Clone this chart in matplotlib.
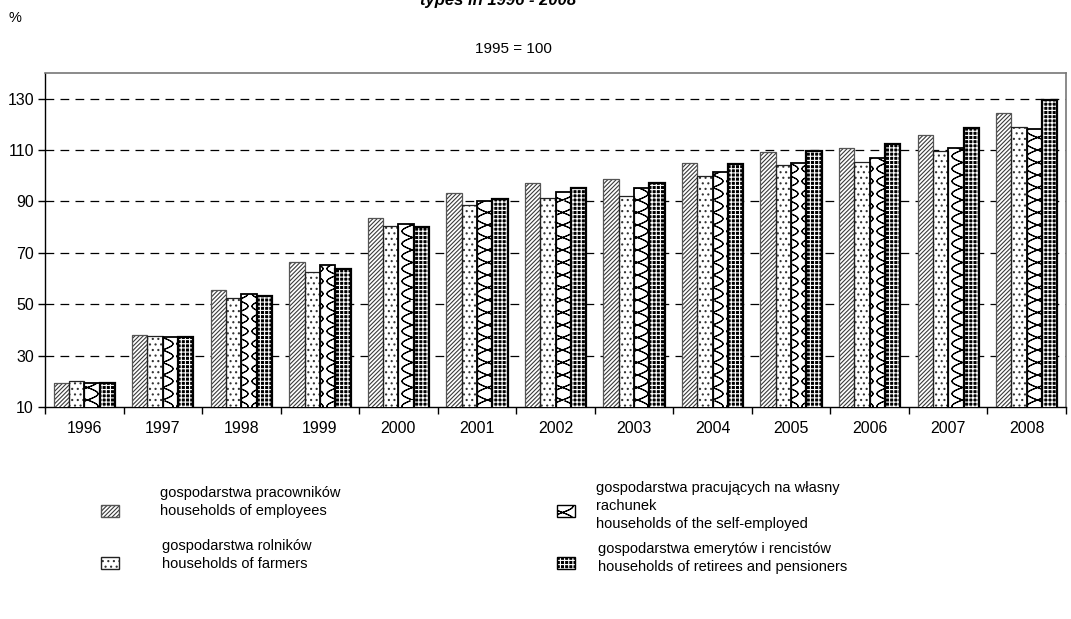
import warnings
import numpy as np
import matplotlib
matplotlib.use("Agg")
import matplotlib.pyplot as plt
import matplotlib.hatch as mhatch
from matplotlib.path import Path
from matplotlib.patches import Rectangle

warnings.filterwarnings("ignore")

# ---------------- data ----------------
years = ["1996", "1997", "1998", "1999", "2000", "2001", "2002",
         "2003", "2004", "2005", "2006", "2007", "2008"]
employees = [19.5, 38.2, 55.5, 66.6, 83.5, 93.3, 97.1, 98.6, 104.9, 109.2, 111.0, 115.9, 124.6]
farmers = [20.2, 37.7, 52.4, 62.7, 80.3, 88.6, 91.2, 92.1, 99.8, 104.1, 105.2, 109.7, 118.8]
self_employed = [19.2, 37.2, 53.8, 65.2, 81.4, 90.3, 93.5, 95.2, 101.4, 105.0, 106.9, 110.9, 118.3]
retirees = [19.5, 37.3, 53.3, 63.7, 80.2, 90.9, 95.2, 97.1, 104.7, 109.6, 112.2, 118.7, 129.6]
series = [employees, farmers, self_employed, retirees]
labels = [
    "gospodarstwa pracowników\nhouseholds of employees",
    "gospodarstwa rolników\nhouseholds of farmers",
    "gospodarstwa pracujących na własny\nrachunek\nhouseholds of the self-employed",
    "gospodarstwa emerytów i rencistów\nhouseholds of retirees and pensioners",
]
y_ticks = [10, 30, 50, 70, 90, 110, 130]
title = "types in 1996 - 2008"
subtitle = "1995 = 100"
unit = "%"


# ---------------- custom wavy (braid) hatch ----------------
class BraidHatch(mhatch.HatchPatternBase):
    """Two interleaved sinusoids per column; each stroke is traced forward and
    back so that Agg's hatch fill pass encloses no area."""
    def __init__(self, hatch, density):
        n = hatch.count('~')
        self.ncol = 4 * n if n else 0
        self.npts = 160
        self.num_vertices = self.ncol * 2 * 2 * self.npts

    def set_vertices_and_codes(self, vertices, codes):
        y = np.linspace(0.0, 1.0, self.npts)
        k = 4
        idx = 0
        m = 2 * self.npts
        for i in range(self.ncol):
            c = (i + 0.5) / self.ncol
            a = 0.42 / self.ncol
            for s in (1, -1):
                xx = c + s * a * np.sin(2 * np.pi * k * y)
                seg = np.column_stack([xx, y])
                seg = np.vstack([seg, seg[::-1]])
                vertices[idx:idx + m] = seg
                codes[idx] = Path.MOVETO
                codes[idx + 1:idx + m] = Path.LINETO
                idx += m


mhatch._hatch_types.append(BraidHatch)

plt.rcParams['font.family'] = ['Liberation Sans', 'DejaVu Sans']
plt.rcParams['hatch.linewidth'] = 0.8

W, H = 1071, 619
fig = plt.figure(figsize=(W / 100, H / 100), dpi=100)
ax = fig.add_axes([45 / W, 1 - 407 / H, (1066 - 45) / W, (407 - 73) / H])

# (fill style, outline style)
fills = [
    dict(hatch='////////', facecolor='white', edgecolor='#3a3a3a', linewidth=0),
    dict(hatch='...', facecolor='white', edgecolor='#333333', linewidth=0),
    dict(hatch='~', facecolor='white', edgecolor='black', linewidth=0),
    dict(hatch='++++', facecolor='black', edgecolor='white', linewidth=0),
]
outlines = [
    dict(edgecolor='#555555', linewidth=0.9),
    dict(edgecolor='#222222', linewidth=0.9),
    dict(edgecolor='black', linewidth=1.3),
    dict(edgecolor='black', linewidth=1.6),
]

x = np.arange(len(years))
bw = 0.195
for j, vals in enumerate(series):
    pos = x + (j - 1.5) * bw
    ax.bar(pos, vals, width=bw, zorder=3, **fills[j])
    ax.bar(pos, vals, width=bw, zorder=4, fill=False, **outlines[j])

ax.set_xlim(-0.5, len(years) - 0.5)
ax.set_ylim(10, 140)
ax.set_yticks(y_ticks)
ax.set_yticklabels([str(v) for v in y_ticks], fontsize=11.5)
ax.set_xticks(x)
ax.set_xticklabels(years, fontsize=11.5)
ax.tick_params(axis='x', which='major', length=0, pad=10)
ax.set_xticks(np.arange(len(years) + 1) - 0.5, minor=True)
ax.tick_params(axis='x', which='minor', length=5, direction='out', width=1)
ax.tick_params(axis='y', length=5, direction='out', width=1, pad=3)

for v in y_ticks[1:]:
    ax.axhline(v, color='black', linewidth=0.9, linestyle=(0, (7, 5)), zorder=1)

for s in ['left', 'bottom']:
    ax.spines[s].set_color('black')
    ax.spines[s].set_linewidth(1.0)
for s in ['top', 'right']:
    ax.spines[s].set_color('#777777')
    ax.spines[s].set_linewidth(1.2)

# header texts
fig.text(498 / W, 1 - 1 / H, title, ha='center', va='center', fontsize=12,
         fontweight='bold', fontstyle='italic')
fig.text(15 / W, 1 - 18 / H, unit, ha='center', va='center', fontsize=10.5)
fig.text(513 / W, 1 - 49 / H, subtitle, ha='center', va='center', fontsize=11)

# legend (manual)
sw_pos = [(101, 511), (101, 563), (557, 511), (557, 563)]
txt_pos = [(160, 486), (162, 539), (596, 481), (598, 542)]
for j, ((sx, sy), (tx, ty), lab) in enumerate(zip(sw_pos, txt_pos, labels)):
    f = fills[j]
    o = outlines[j]
    xy = (sx / W, 1 - (sy + 6) / H)
    r = Rectangle(xy, 18 / W, 12 / H, transform=fig.transFigure,
                  hatch=f['hatch'], facecolor=f['facecolor'], edgecolor=f['edgecolor'],
                  linewidth=0)
    fig.patches.append(r)
    r2 = Rectangle(xy, 18 / W, 12 / H, transform=fig.transFigure, fill=False,
                   edgecolor=o['edgecolor'], linewidth=1.0)
    fig.patches.append(r2)
    fig.text(tx / W, 1 - ty / H, lab, ha='left', va='top', fontsize=10.5, linespacing=1.35)

fig.savefig("out.png", dpi=100)
